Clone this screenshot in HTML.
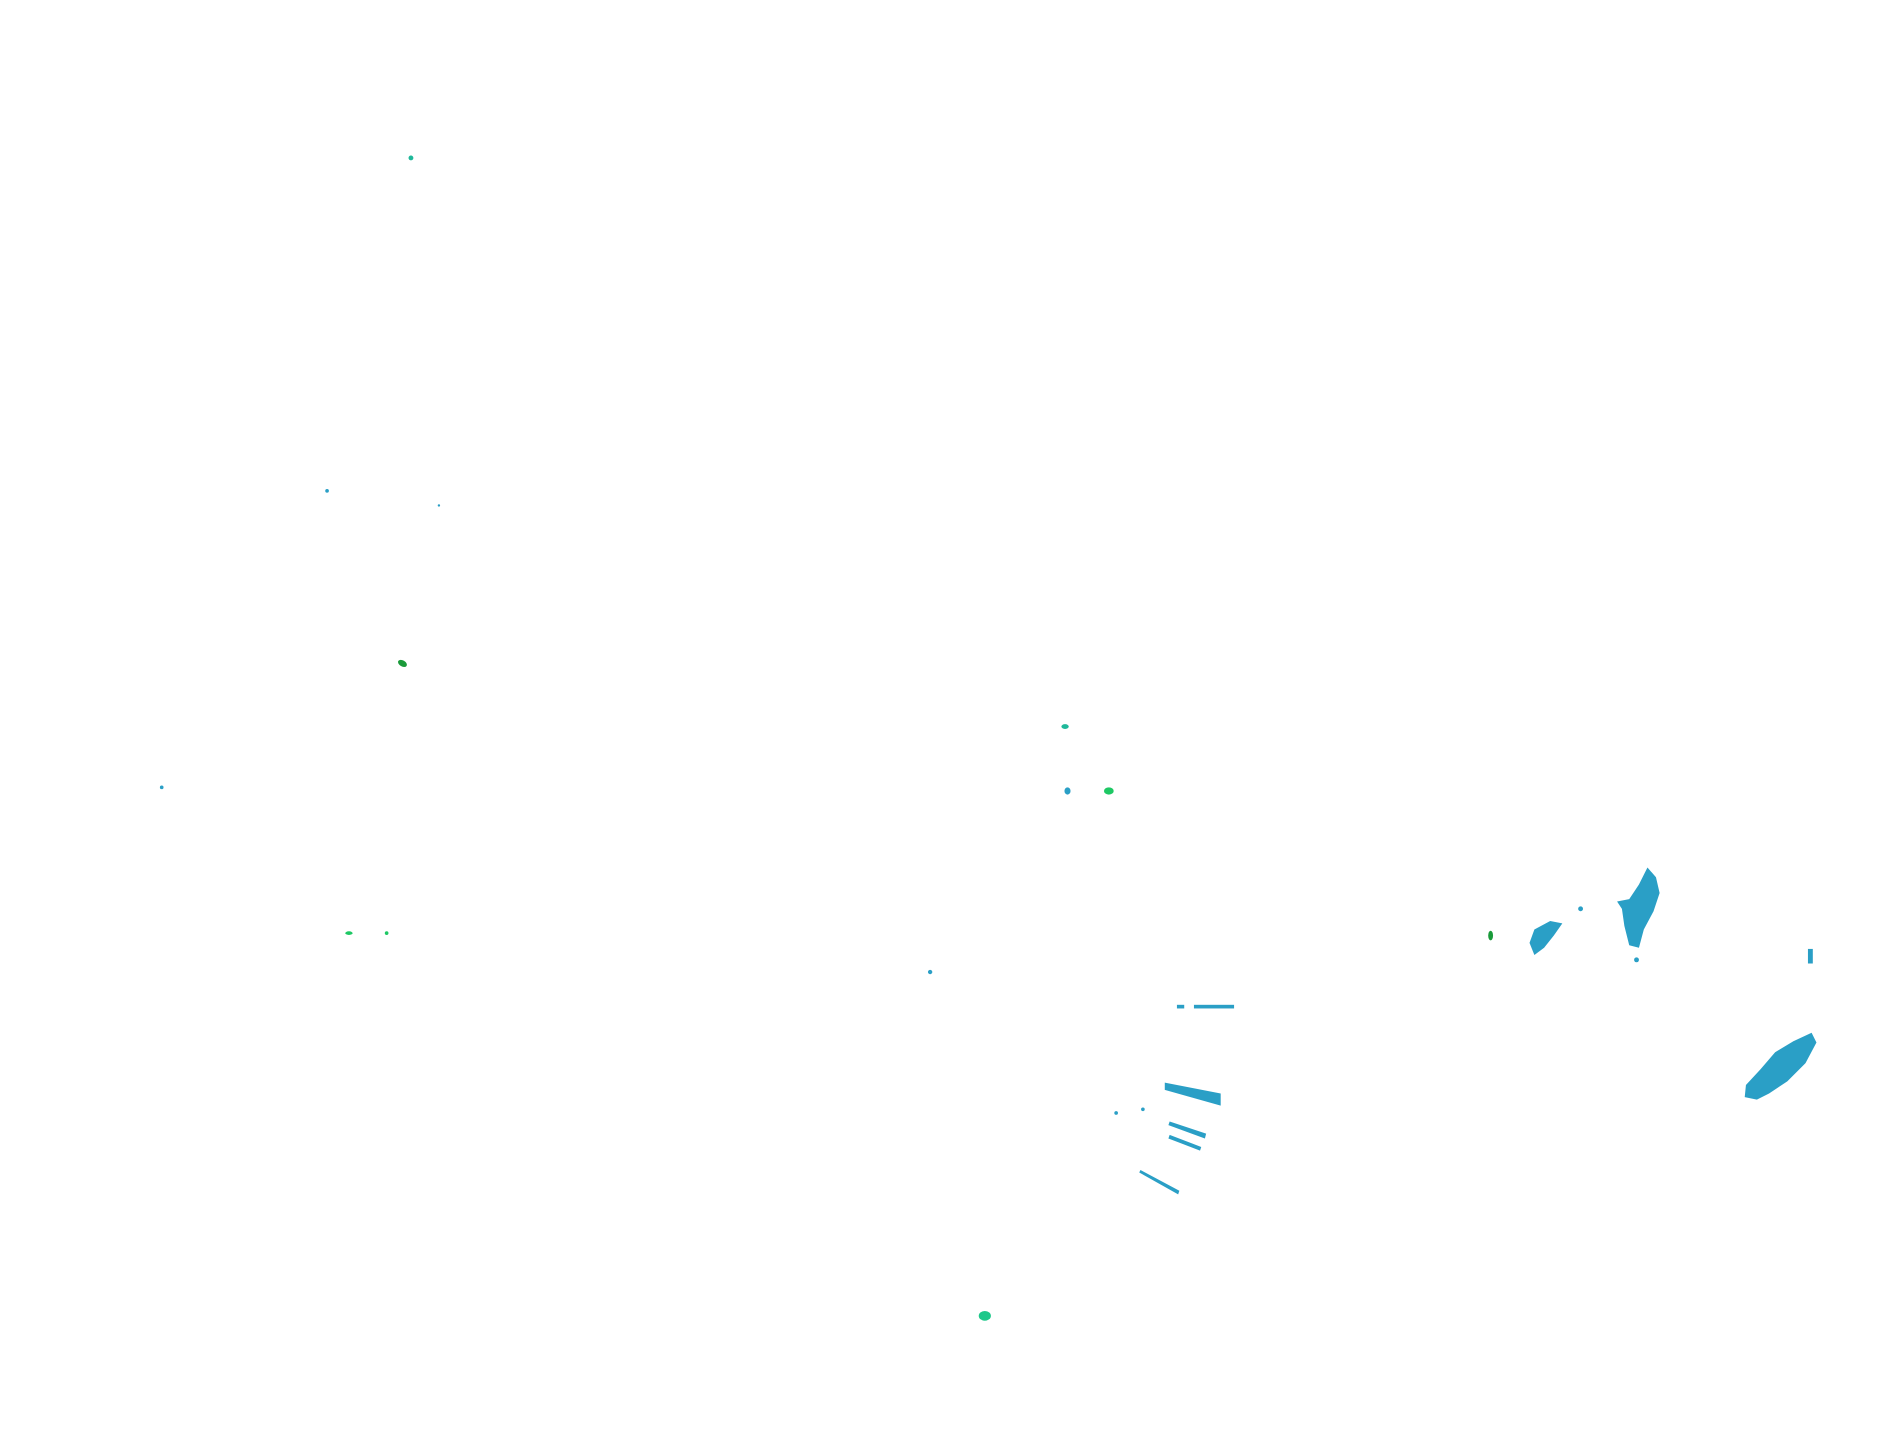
<!DOCTYPE html>
<html><head><meta charset="utf-8"><style>html,body{margin:0;padding:0;background:#fff}svg{display:block}</style></head>
<body>
<svg width="1904" height="1441" viewBox="0 0 1566 1186" preserveAspectRatio="none" xmlns="http://www.w3.org/2000/svg">
<g fill="#2a9fc6" stroke="none">
<circle cx="338" cy="130" r="2" fill="#1fb89a"/>
<circle cx="269" cy="404" r="1.5"/>
<circle cx="361" cy="416" r="1"/>
<ellipse cx="331" cy="546" rx="4" ry="2.5" fill="#1a9a3a" transform="rotate(30 331 546)"/>
<ellipse cx="876" cy="598" rx="3" ry="2" fill="#1fb89a"/>
<ellipse cx="878" cy="651" rx="2.5" ry="3"/>
<ellipse cx="912" cy="651" rx="4" ry="3" fill="#1ec864"/>
<circle cx="133" cy="648" r="1.5"/>
<ellipse cx="287" cy="768" rx="3" ry="1.5" fill="#1ec864"/>
<circle cx="318" cy="768" r="1.5" fill="#1ec864"/>
<circle cx="765" cy="800" r="1.8"/>
<rect x="968" y="827" width="6" height="3"/>
<rect x="982" y="827" width="33" height="3"/>
<polygon points="958,891 1004,900 1004,910 958,897"/>
<polygon points="962,923 992,933 991,937 961,926"/>
<polygon points="962,934 988,944 987,947 961,937"/>
<polygon points="938,963 970,980 969,983 937,965"/>
<circle cx="918" cy="916" r="1.5"/>
<circle cx="940" cy="913" r="1.5"/>
<ellipse cx="810" cy="1083" rx="5" ry="4" fill="#1ec88a"/>
<ellipse cx="1226" cy="770" rx="2" ry="4" fill="#1a9a3a"/>
<polygon points="1262,765 1275,758 1285,760 1278,770 1270,780 1262,786 1258,776"/>
<circle cx="1300" cy="748" r="2"/>
<polygon points="1355,714 1362,722 1365,735 1360,750 1352,765 1348,780 1340,778 1336,762 1334,748 1330,742 1340,740 1348,728"/>
<circle cx="1346" cy="790" r="2"/>
<rect x="1487" y="781" width="4" height="12"/>
<polygon points="1490,850 1494,858 1485,875 1470,890 1455,900 1445,905 1435,903 1436,893 1448,880 1460,866 1475,857"/>
</g>
</svg>
</body></html>
